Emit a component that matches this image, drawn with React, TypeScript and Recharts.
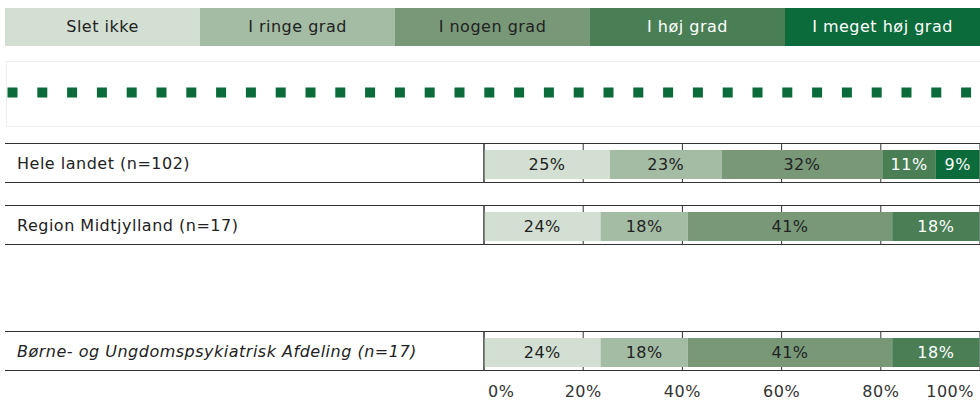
import { BarChart, Bar, XAxis, YAxis, CartesianGrid, LabelList } from "recharts";

// rows (categories on the y axis)
const rowLabels = [
  "Hele landet (n=102)",
  "Region Midtjylland (n=17)",
  "Børne- og Ungdomspsykiatrisk Afdeling (n=17)",
];
const italicRows = [false, false, true];

// answer categories (stacked series)
const answers = ["Slet ikke", "I ringe grad", "I nogen grad", "I høj grad", "I meget høj grad"];
const colors = ["#d3dfd3", "#a3bca3", "#789878", "#4a7f55", "#0b6b3a"];
const textColors = ["#222", "#222", "#222", "#fff", "#fff"];

// percentages per row
const sletIkke = [25.4, 23.5, 23.5];
const ringeGrad = [22.5, 17.6, 17.6];
const nogenGrad = [32.4, 41.2, 41.2];
const hoejGrad = [10.8, 17.6, 17.6];
const megetHoejGrad = [8.8, 0, 0];
const series = [sletIkke, ringeGrad, nogenGrad, hoejGrad, megetHoejGrad];

const xTicks = [0, 20, 40, 60, 80, 100];

const FONT = "'DejaVu Sans', Verdana, sans-serif";
const FS = 16;
const LS = 0.5;
const LINE = "#333";

function RowTick(props: any) {
  const { y, payload, italic } = props;
  return (
    <text
      x={12}
      y={y - 1}
      dominantBaseline="central"
      fontSize={FS}
      letterSpacing={LS}
      fill="#222"
      fontStyle={italic ? "italic" : "normal"}
      fontFamily={FONT}
    >
      {payload.value}
    </text>
  );
}

function AxisTick(props: any) {
  const { x, y, payload } = props;
  let anchor = "middle";
  let dx = 0;
  if (payload.value === xTicks[0]) {
    anchor = "start";
    dx = 4;
  } else if (payload.value === xTicks[xTicks.length - 1]) {
    anchor = "end";
    dx = 6;
  }
  return (
    <text
      x={x + dx}
      y={y}
      dy={19}
      textAnchor={anchor}
      fontSize={FS}
      letterSpacing={LS}
      fill="#333"
      fontFamily={FONT}
    >
      {payload.value}%
    </text>
  );
}

function Row({ index, top, showAxis }: { index: number; top: number; showAxis?: boolean }) {
  const row: any = { name: rowLabels[index] };
  series.forEach((s, i) => {
    row["k" + i] = s[index];
  });
  const data = [row];
  const axisH = showAxis ? 32 : 0;
  return (
    <div style={{ position: "absolute", left: 5, top, width: 975 }}>
      <div
        style={{
          position: "absolute",
          left: 0,
          top: 0,
          width: 975,
          height: 38,
          borderTop: `1px solid ${LINE}`,
          borderBottom: `1px solid ${LINE}`,
        }}
      />
      <div style={{ position: "absolute", left: 0, top: 1 }}>
        <BarChart
          width={975}
          height={38 + axisH}
          data={data}
          layout="vertical"
          margin={{ top: 0, right: 0, bottom: 0, left: 0 }}
          barSize={29}
        >
          <CartesianGrid horizontal={false} stroke={LINE} />
          <XAxis
            type="number"
            domain={[0, 100]}
            ticks={xTicks}
            hide={!showAxis}
            height={axisH || 30}
            axisLine={false}
            tickLine={false}
            tick={<AxisTick />}
          />
          <YAxis
            type="category"
            dataKey="name"
            width={479}
            padding={{ top: 3, bottom: 0 }}
            axisLine={{ stroke: LINE }}
            tickLine={false}
            tick={<RowTick italic={italicRows[index]} />}
          />
          {answers.map((a, i) => (
            <Bar key={a} name={a} dataKey={"k" + i} stackId="a" fill={colors[i]} isAnimationActive={false}>
              <LabelList
                dataKey={"k" + i}
                position="center"
                fill={textColors[i]}
                fontSize={FS}
                letterSpacing={LS}
                fontFamily={FONT}
                formatter={(v: any) => (Number(v) > 0 ? Math.round(Number(v)) + "%" : "")}
              />
            </Bar>
          ))}
        </BarChart>
      </div>
    </div>
  );
}

export default function App() {
  return (
    <div
      style={{
        position: "relative",
        width: 980,
        height: 402,
        overflow: "hidden",
        fontFamily: FONT,
        background: "#fff",
      }}
    >
      <style>{"body{margin:0}"}</style>
      {/* legend */}
      <div style={{ position: "absolute", left: 5, top: 8, width: 975, height: 38, display: "flex" }}>
        {answers.map((a, i) => (
          <div
            key={a}
            style={{
              flex: 1,
              background: colors[i],
              color: textColors[i],
              fontSize: FS,
              letterSpacing: LS,
              lineHeight: "38px",
              textAlign: "center",
            }}
          >
            {a}
          </div>
        ))}
      </div>
      {/* dotted separator */}
      <div
        style={{
          position: "absolute",
          left: 6,
          top: 61,
          width: 980,
          height: 64,
          border: "1px solid #eeeeee",
        }}
      >
        <svg width={980} height={64} style={{ display: "block" }}>
          <line x1={0.5} x2={980} y1={30.5} y2={30.5} stroke="#0b6b3a" strokeWidth={10} strokeDasharray="10 19.8" />
        </svg>
      </div>
      <Row index={0} top={143} />
      <Row index={1} top={205} />
      <Row index={2} top={331} showAxis />
    </div>
  );
}
